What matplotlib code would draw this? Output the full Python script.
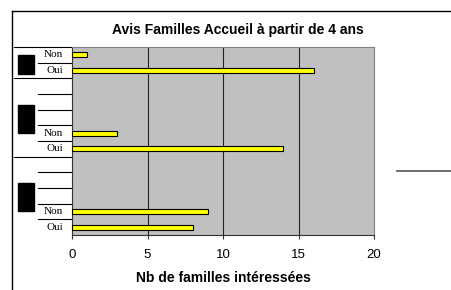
import matplotlib
matplotlib.use("Agg")
import matplotlib.pyplot as plt
import matplotlib.transforms as mtransforms
from matplotlib.patches import Rectangle
from matplotlib.lines import Line2D
import numpy as np

# category slots from top to bottom (blank slots are empty categories)
categories = ["Non", "Oui", "", "", "", "Non", "Oui", "", "", "", "Non", "Oui"]
values = [1, 16, np.nan, np.nan, np.nan, 3, 14, np.nan, np.nan, np.nan, 9, 8]
group_sizes = [2, 5, 5]
x_ticks = [0, 5, 10, 15, 20]

W, H = 451, 290
fig = plt.figure(figsize=(W / 100, H / 100), dpi=100)
plt.rcParams['font.family'] = ['Liberation Sans', 'DejaVu Sans']


def fx(px):
    return px / W


def fy(py):
    return 1 - py / H


ax = fig.add_axes([fx(72), fy(235), fx(374) - fx(72), fy(47) - fy(235)])
ax.set_facecolor("#C0C0C0")

pos = np.arange(len(categories))
ax.barh(pos, values, height=0.33, color="#FFFF00", edgecolor="black", linewidth=0.8, zorder=3)
ax.set_ylim(len(categories) - 0.5, -0.5)
ax.set_xlim(0, 20)
ax.set_xticks(x_ticks)
ax.set_xticklabels([str(t) for t in x_ticks], fontsize=9.5)
ax.set_yticks([])
for t in x_ticks[1:-1]:
    ax.axvline(t, color="#222222", linewidth=0.8, zorder=1)
ax.tick_params(axis="x", direction="out", length=3, width=0.8, color="#333333", pad=7)
for side in ["top", "right"]:
    ax.spines[side].set_color("#808080")
ax.spines["bottom"].set_color("#333333")
ax.spines["left"].set_color("#333333")
ax.set_xlabel("Nb de familles intéressées", fontsize=10, fontweight="bold", labelpad=7)

# title is centred on the whole chart area, not the plot area
fig.text(fx(238), fy(30), "Avis Familles Accueil à partir de 4 ans", fontsize=10,
         fontweight="bold", ha="center", va="center")

# category axis labels area (to the left of the plot)
tr = mtransforms.blended_transform_factory(ax.transAxes, ax.transData)
x_in = (38 - 72) / 302
x_out = (14 - 72) / 302
x_txt = (63 - 72) / 302
for i, lab in enumerate(categories):
    if lab:
        ax.text(x_txt, i, lab, transform=tr, ha="right", va="center",
                fontsize=8, family=["Liberation Serif", "DejaVu Serif"])

bounds = np.cumsum([0] + group_sizes)
ax.plot([x_out, 0], [-0.5, -0.5], transform=tr, color="black", lw=0.8, clip_on=False)
for g in range(len(group_sizes)):
    start, end = bounds[g], bounds[g + 1]
    for k in range(start + 1, end):
        ax.plot([x_in, 0], [k - 0.5, k - 0.5], transform=tr, color="black", lw=0.8, clip_on=False)
    if g < len(group_sizes) - 1:
        ax.plot([x_out, 0], [end - 0.5, end - 0.5], transform=tr, color="black", lw=0.8, clip_on=False)
    # outer group label (rendered as a black block)
    mid = (start + end - 1) / 2 + 0.1
    hgt = 0.6 * min(group_sizes[g], 2) + 0.2 * max(group_sizes[g] - 2, 0)
    ax.add_patch(Rectangle(((18 - 72) / 302, mid - hgt / 2), 16 / 302, hgt,
                           transform=tr, color="black", clip_on=False))

# chart border and legend fragment
fig.add_artist(Line2D([fx(12), 1], [fy(11), fy(11)], color="black", lw=1))
fig.add_artist(Line2D([fx(12), fx(12)], [fy(11), 0], color="black", lw=1))
fig.add_artist(Line2D([fx(397), 1], [fy(171), fy(171)], color="#555555", lw=1.2))

fig.savefig("out.png", dpi=100)
plt.close(fig)
